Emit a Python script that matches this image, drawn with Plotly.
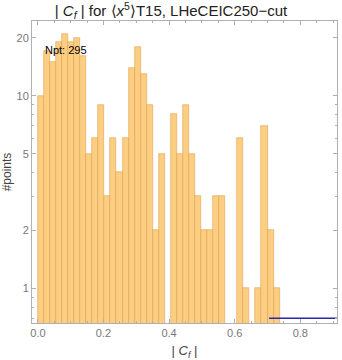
import numpy as np
import plotly.graph_objects as go

# histogram counts (40 bins from 0 to ~0.737)
counts = [10, 17, 15, 19, 21, 19, 20, 16, 5, 6,
          9, 3, 6, 4, 6, 14, 18, 13, 9, 2,
          5, 0, 8, 5, 9, 5, 3, 2, 2, 3,
          3, 0, 0, 6, 1, 0, 1, 7, 2, 1]
x_min, x_max = 0.0, 0.737
blue_line_x = [0.705, 0.95]
blue_line_y = [0.70, 0.70]
x_ticks = [0.0, 0.2, 0.4, 0.6, 0.8]
x_ticklabels = ["0.0", "0.2", "0.4", "0.6", "0.8"]
y_ticks = [1, 2, 5, 10, 20]
y_ticklabels = ["1", "2", "5", "10", "20"]
title_text = "| <i>C<sub>f</sub></i> | for ⟨<i>x</i><sup>5</sup>⟩T15, LHeCEIC250−cut"
npt_text = "Npt: 295"

edges = np.linspace(x_min, x_max, len(counts) + 1)
centers = (edges[:-1] + edges[1:]) / 2
widths = np.diff(edges)
yvals = [c if c > 0 else None for c in counts]

fig = go.Figure()
fig.add_trace(go.Bar(
    x=centers, y=yvals, width=widths,
    marker=dict(color="rgb(252,206,130)", line=dict(color="rgb(226,160,80)", width=0.6)),
    showlegend=False,
))
fig.add_trace(go.Scatter(
    x=blue_line_x, y=blue_line_y, mode="lines",
    line=dict(color="rgb(40,40,170)", width=1.5), showlegend=False,
))

axis_common = dict(
    showline=True, linecolor="#b0b0b0", linewidth=1, mirror="allticks",
    ticks="inside", tickcolor="#b0b0b0", ticklen=4, showgrid=False, zeroline=False,
    tickfont=dict(family="Liberation Sans, Arial", size=11, color="#777777"),
)

fig.update_layout(
    width=342, height=360,
    margin=dict(l=30, r=4, t=21, b=32),
    paper_bgcolor="white", plot_bgcolor="white",
    bargap=0,
    title=dict(text=title_text, x=0.5, xanchor="center", y=0.984, yanchor="top",
               font=dict(family="Liberation Sans, Arial", size=15, color="#222222")),
    xaxis=dict(range=[-0.018, 0.912], tickvals=x_ticks, ticktext=x_ticklabels,
               minor=dict(ticks="inside", ticklen=2, tickcolor="#b0b0b0", dtick=0.05),
               title=dict(text="| <i>C<sub>f</sub></i> |", standoff=8,
                          font=dict(family="Liberation Sans, Arial", size=13, color="#444444")),
               **axis_common),
    yaxis=dict(type="log", range=[-0.18, 1.388], tickvals=y_ticks, ticktext=y_ticklabels,
               minor=dict(ticks="inside", ticklen=2, tickcolor="#b0b0b0",
                          tickvals=[0.7, 0.8, 0.9, 3, 4, 6, 7, 8, 9]),
               title=dict(text="#points", standoff=4,
                          font=dict(family="Liberation Sans, Arial", size=12, color="#444444")),
               **axis_common),
    annotations=[dict(text=npt_text, xref="paper", yref="paper", x=0.035, y=0.905,
                      xanchor="left", yanchor="middle", showarrow=False,
                      font=dict(family="Liberation Sans, Arial", size=11, color="black"))],
)

fig.write_html("out.html")
